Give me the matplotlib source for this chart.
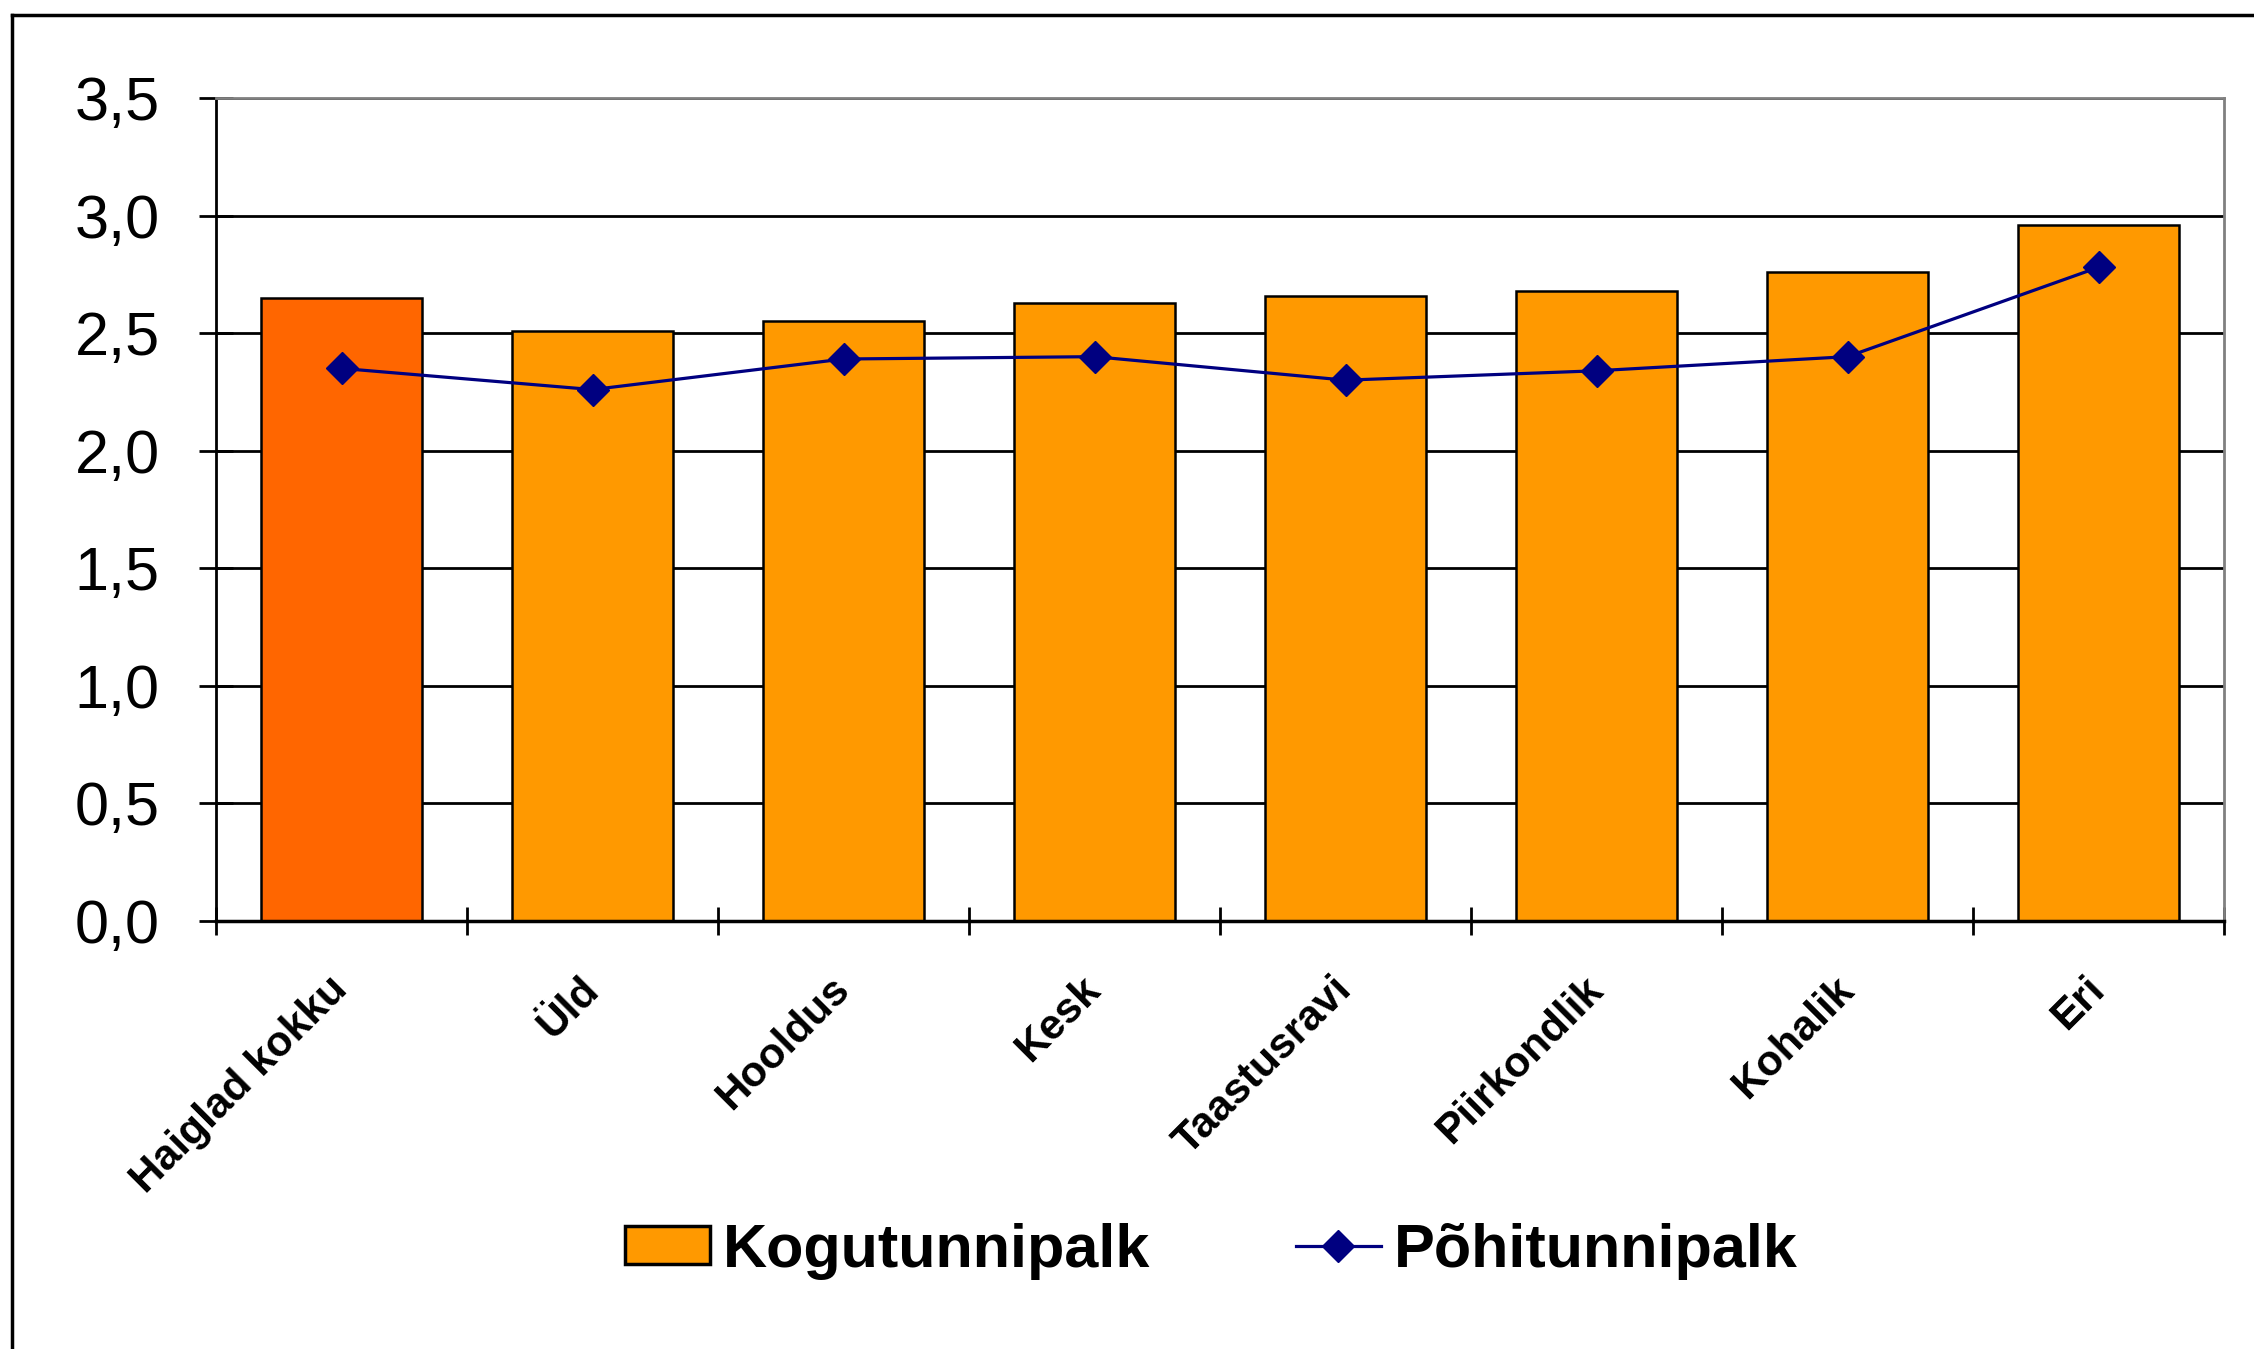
import numpy as np
import matplotlib
matplotlib.use("Agg")
import matplotlib.pyplot as plt
from matplotlib.lines import Line2D
from matplotlib.patches import Patch

plt.rcParams['font.family'] = ['Liberation Sans', 'DejaVu Sans']

# andmed
kategooriad = ["Haiglad kokku", "Üld", "Hooldus", "Kesk", "Taastusravi",
               "Piirkondlik", "Kohalik", "Eri"]
kogutunnipalk = [2.65, 2.51, 2.55, 2.63, 2.66, 2.68, 2.76, 2.96]
pohitunnipalk = [2.35, 2.26, 2.39, 2.40, 2.30, 2.34, 2.40, 2.78]
y_ticks = [0.0, 0.5, 1.0, 1.5, 2.0, 2.5, 3.0, 3.5]
y_labels = ["0,0", "0,5", "1,0", "1,5", "2,0", "2,5", "3,0", "3,5"]
seeria_nimed = ["Kogutunnipalk", "Põhitunnipalk"]

W, H = 2254, 1349
fig = plt.figure(figsize=(W / 100, H / 100), dpi=100)
ax = fig.add_axes([216 / W, 1 - 921 / H, (2224 - 216) / W, (921 - 98) / H])

x = np.arange(len(kategooriad))
varvid = ['#FF6600'] + ['#FF9900'] * (len(kategooriad) - 1)
ax.bar(x, kogutunnipalk, width=0.64, color=varvid, edgecolor='black',
       linewidth=1.8, zorder=2)
ax.plot(x, pohitunnipalk, color='#000080', lw=2.3, marker='D', ms=16, zorder=3)

ax.set_xlim(-0.5, len(kategooriad) - 0.5)
ax.set_ylim(0, 3.5)

# y telg
ax.set_yticks(y_ticks, y_labels, fontsize=44)
ax.tick_params(axis='y', direction='inout', length=25, width=2, pad=28)
ax.yaxis.grid(True, color='black', lw=2)
ax.set_axisbelow(True)

# x telg: sildid keskel, kriipsud vahedes
ax.set_xticks(x, kategooriad, fontsize=30.5, fontweight='bold')
ax.tick_params(axis='x', which='major', length=0, pad=45)
ax.set_xticks(np.arange(-0.5, len(kategooriad), 1), minor=True)
ax.tick_params(axis='x', which='minor', direction='inout', length=20, width=2)
for lbl in ax.get_xticklabels():
    lbl.set_rotation(45)
    lbl.set_ha('right')
    lbl.set_va('center')
    lbl.set_rotation_mode('anchor')

ax.spines['left'].set_color('black')
ax.spines['left'].set_linewidth(2)
ax.spines['bottom'].set_color('black')
ax.spines['bottom'].set_linewidth(2.5)
for s in ['top', 'right']:
    ax.spines[s].set_color('#808080')
    ax.spines[s].set_linewidth(2)

# välimine raam (vasak ja ülemine serv)
fig.add_artist(Line2D([12 / W, 12 / W], [0, 1 - 15 / H], color='black', lw=2.5,
                      transform=fig.transFigure))
fig.add_artist(Line2D([12 / W, 1], [1 - 15 / H, 1 - 15 / H], color='black', lw=2.5,
                      transform=fig.transFigure))

handles = [Patch(facecolor='#FF9900', edgecolor='black', linewidth=2.5),
           Line2D([], [], color='#000080', lw=2.3, marker='D', ms=16)]
fig.legend(handles, seeria_nimed, loc='center',
           bbox_to_anchor=(1211.5 / W, 1 - 1251 / H), ncol=2, frameon=False,
           prop={'weight': 'bold', 'size': 44}, handlelength=1.39,
           handleheight=0.57, handletextpad=0.21, columnspacing=2.38)

fig.savefig('out.png', dpi=100)
